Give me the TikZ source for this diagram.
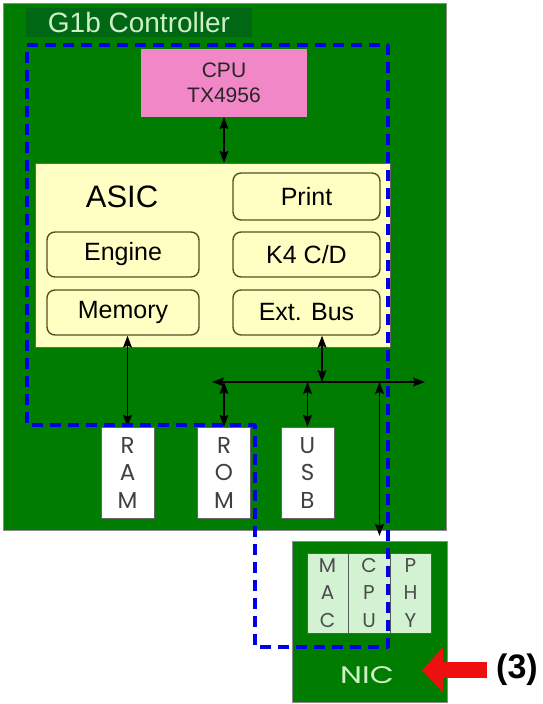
\documentclass[tikz,border=0pt]{standalone}
\usepackage{fontspec}
\setmainfont{Liberation Sans}
\newfontfamily\geofont{Poppins}
\usetikzlibrary{positioning, arrows.meta}
\definecolor{boardgreen}{RGB}{0,125,0}
\definecolor{titlegreen}{RGB}{0,104,20}
\definecolor{titletext}{RGB}{205,240,200}
\definecolor{cpupink}{RGB}{242,135,200}
\definecolor{asicyellow}{RGB}{255,255,195}
\definecolor{unitedge}{RGB}{85,80,35}
\definecolor{nicgreen}{RGB}{210,242,210}
\definecolor{pathblue}{RGB}{0,0,230}
\definecolor{pointred}{RGB}{238,16,16}

\begin{document}
\begin{tikzpicture}[x=1pt, y=-1pt, >={Stealth[length=12pt, width=9pt, inset=2pt]},
    board/.style={draw=black!45, fill=boardgreen, inner sep=0pt},
    unit/.style={draw=unitedge, line width=1.4pt, rounded corners=8pt,
                 fill=asicyellow, minimum width=147pt, minimum height=45pt,
                 font=\fontsize{25}{30}\selectfont},
    memchip/.style={draw=black!60, fill=white, minimum width=53pt,
                    minimum height=91pt, inner sep=0pt, align=center,
                    text=black!75, font=\geofont\fontsize{23}{27.5}\selectfont},
    nicpart/.style={draw=black!65, fill=nicgreen, minimum width=41.5pt,
                    minimum height=80pt, inner sep=0pt, align=center,
                    text=black!70, font=\geofont\fontsize{20}{27.5}\selectfont},
    bus/.style={<->, line width=1.2pt}]
    \useasboundingbox[fill=white] (0,0) rectangle (543,704);
    % controller board
    \node[board, minimum width=443pt, minimum height=527pt] (g1b) at (224.5,266.5) {};
    \node[fill=titlegreen, minimum width=226pt, minimum height=29pt, inner sep=0pt,
          text=titletext, font=\fontsize{28}{30}\selectfont] (title) at (139,22.5) {G1b Controller};
    \node[fill=cpupink, minimum width=166pt, minimum height=68pt, align=center,
          text=black!85, font=\fontsize{21}{25}\selectfont] (cpu) at (224,83) {CPU\\TX4956};
    % ASIC
    \node[draw=black!60, fill=asicyellow, minimum width=355pt, minimum height=184pt] (asic) at (212.5,255) {};
    \node[font=\fontsize{31}{36}\selectfont] (asiclbl) at (122,197) {ASIC};
    \node[unit, minimum height=47pt] (print) at (306.5,196.5) {Print};
    \node[unit] (k4) at (306.5,254.5) {K4 C/D};
    \node[unit] (extbus) at (306.5,312.5) {Ext. Bus};
    \node[unit, minimum width=152pt] (engine) at (123,254.5) {Engine};
    \node[unit, minimum width=152pt] (memory) at (123,312.5) {Memory};
    % memories
    \node[memchip] (ram) at (127.5,472.5) {R\\A\\M};
    \node[memchip] (rom) at (224,472.5) {R\\O\\M};
    \node[memchip] (usb) at (307.5,472.5) {U\\S\\B};
    % NIC board
    \node[board, minimum width=155pt, minimum height=161pt] (nic) at (369.5,621.5) {};
    \node[nicpart] (mac) at (327.5,593) {M\\A\\C};
    \node[nicpart] (niccpu) at (369,593) {C\\P\\U};
    \node[nicpart] (phy) at (410.5,593) {P\\H\\Y};
    \node[text=titletext, font=\geofont\fontsize{24}{28}\selectfont] (niclbl) at (367,675) {\scalebox{1.3}[1]{NIC}};
    % buses
    \coordinate (busL) at (212,382);
    \coordinate (busR) at (425,382);
    \draw[bus] (busL) -- (busR);
    \draw[bus] (cpu.south) -- (cpu.south |- asic.north);
    \draw[bus] (memory.south -| ram.north) -- (ram.north);
    \draw[bus] ([xshift=15.5pt]extbus.south) -- ([xshift=15.5pt]extbus.south |- busL);
    \draw[bus] (rom.north |- busL) -- (rom.north);
    \draw[bus] (usb.north |- busL) -- (usb.north);
    \draw[bus, shorten >=5pt] ([xshift=10pt]nic.north |- busL) -- ([xshift=10pt]nic.north);
    % data path
    \draw[pathblue, line width=3.5pt, dash pattern=on 11pt off 7pt, line join=round]
      (27,45) -- (388,45) -- (388,647) -- (255,647) -- (255,425) -- (27,425) -- cycle;
    % pointer
    \node[font=\bfseries\fontsize{34}{38}\selectfont, anchor=west, inner sep=0pt] (three) at (496,670) {(3)};
    \coordinate (tip) at (422,670);
    \draw[pointred, line width=16pt, -{Triangle[length=21pt, width=44pt]}]
      ([xshift=-9pt]three.west) -- (tip);
\end{tikzpicture}
\end{document}
